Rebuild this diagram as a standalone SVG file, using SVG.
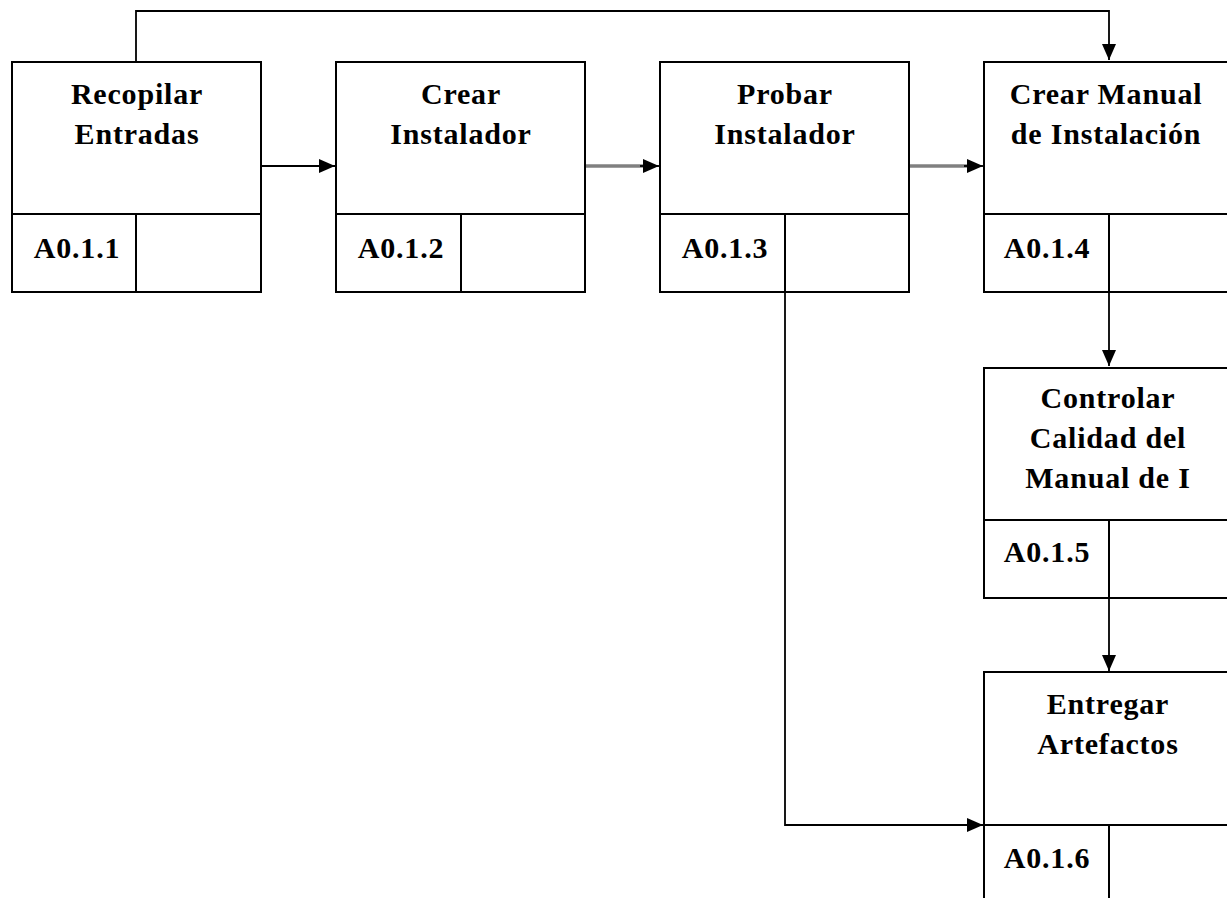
<svg xmlns="http://www.w3.org/2000/svg" width="1227" height="898" viewBox="0 0 1227 898">
<style>
.box{fill:#fff;stroke:#000;stroke-width:2}
.ln{fill:none;stroke:#000;stroke-width:2}
.t{font-family:"Liberation Serif","Times New Roman",serif;font-size:30px;font-weight:bold;letter-spacing:0.8px;text-anchor:middle;fill:#000}
.c{fill:none;stroke:#000;stroke-width:1.8}
.g{fill:none;stroke:#808080;stroke-width:3.5}
</style>
<defs>
<marker id="ah" markerWidth="16" markerHeight="14" refX="16" refY="7" orient="auto" markerUnits="userSpaceOnUse">
<path d="M0,0 L16,7 L0,14 Z" fill="#000"/>
</marker>
</defs>
<rect width="1227" height="898" fill="#fff"/>
<g id="connectors">
<path class="c" d="M136,61 V11 H1109 V60" marker-end="url(#ah)"/>
<path class="c" d="M261,166 H335" marker-end="url(#ah)"/>
<path class="g" d="M585,166 H645"/>
<path class="c" d="M640,166 H659" marker-end="url(#ah)"/>
<path class="g" d="M909,166 H969"/>
<path class="c" d="M964,166 H983" marker-end="url(#ah)"/>
<path class="c" d="M1109,292 V366" marker-end="url(#ah)"/>
<path class="c" d="M1109,598 V671" marker-end="url(#ah)"/>
<path class="c" d="M785,292 V825 H983" marker-end="url(#ah)"/>
</g>
<g id="n1">
<rect class="box" x="12" y="62" width="249" height="230"/>
<path class="ln" d="M12,214 H261 M136,214 V292"/>
<text class="t" x="137" y="104">Recopilar</text>
<text class="t" x="137" y="144">Entradas</text>
<text class="t" x="77" y="258">A0.1.1</text>
</g>
<g id="n2">
<rect class="box" x="336" y="62" width="249" height="230"/>
<path class="ln" d="M336,214 H585 M461,214 V292"/>
<text class="t" x="461" y="104">Crear</text>
<text class="t" x="461" y="144">Instalador</text>
<text class="t" x="401" y="258">A0.1.2</text>
</g>
<g id="n3">
<rect class="box" x="660" y="62" width="249" height="230"/>
<path class="ln" d="M660,214 H909 M785,214 V292"/>
<text class="t" x="785" y="104">Probar</text>
<text class="t" x="785" y="144">Instalador</text>
<text class="t" x="725" y="258">A0.1.3</text>
</g>
<g id="n4">
<rect class="box" x="984" y="62" width="249" height="230"/>
<path class="ln" d="M984,214 H1233 M1109,214 V292"/>
<text class="t" x="1106" y="104">Crear Manual</text>
<text class="t" x="1106" y="144">de Instalación</text>
<text class="t" x="1047" y="258">A0.1.4</text>
</g>
<g id="n5">
<rect class="box" x="984" y="368" width="249" height="230"/>
<path class="ln" d="M984,520 H1233 M1109,520 V598"/>
<text class="t" x="1108" y="408">Controlar</text>
<text class="t" x="1108" y="448">Calidad del</text>
<text class="t" x="1108" y="488">Manual de I</text>
<text class="t" x="1047" y="562">A0.1.5</text>
</g>
<g id="n6">
<rect class="box" x="984" y="672" width="249" height="240"/>
<path class="ln" d="M984,825 H1233 M1109,825 V912"/>
<text class="t" x="1108" y="714">Entregar</text>
<text class="t" x="1108" y="754">Artefactos</text>
<text class="t" x="1047" y="868">A0.1.6</text>
</g>
</svg>
